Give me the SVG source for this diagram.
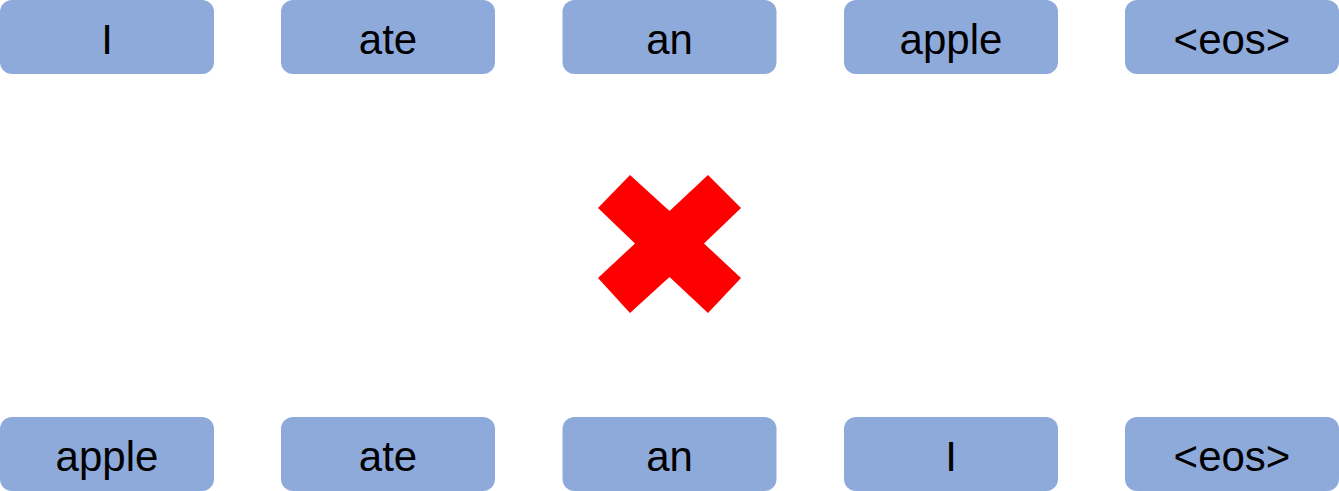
<svg xmlns="http://www.w3.org/2000/svg" width="1339" height="491" viewBox="0 0 1339 491">
<style>
.box{fill:#8EAADB;}
.t{font-family:"Liberation Sans",Arial,sans-serif;font-size:42px;fill:#000;text-anchor:middle;}
</style>
<rect width="1339" height="491" fill="#fff"/>
<g id="top-I"><rect class="box" x="0" y="0" width="214" height="74" rx="12"/><text class="t" x="107" y="54">I</text></g>
<g id="top-ate"><rect class="box" x="281" y="0" width="214" height="74" rx="12"/><text class="t" x="388" y="54">ate</text></g>
<g id="top-an"><rect class="box" x="562.5" y="0" width="214" height="74" rx="12"/><text class="t" x="669.5" y="54">an</text></g>
<g id="top-apple"><rect class="box" x="844" y="0" width="214" height="74" rx="12"/><text class="t" x="951" y="54">apple</text></g>
<g id="top-eos"><rect class="box" x="1125" y="0" width="214" height="74" rx="12"/><text class="t" x="1232" y="54">&lt;eos&gt;</text></g>
<g id="cross"><polygon fill="#FF0000" points="598,208 630,175 669.5,211 708,175 741,208 704,243.5 741,278 708,313 669.5,277 630,313 598,278 635,243.5"/></g>
<g id="bot-apple"><rect class="box" x="0" y="417" width="214" height="74" rx="12"/><text class="t" x="107" y="471">apple</text></g>
<g id="bot-ate"><rect class="box" x="281" y="417" width="214" height="74" rx="12"/><text class="t" x="388" y="471">ate</text></g>
<g id="bot-an"><rect class="box" x="562.5" y="417" width="214" height="74" rx="12"/><text class="t" x="669.5" y="471">an</text></g>
<g id="bot-I"><rect class="box" x="844" y="417" width="214" height="74" rx="12"/><text class="t" x="951" y="471">I</text></g>
<g id="bot-eos"><rect class="box" x="1125" y="417" width="214" height="74" rx="12"/><text class="t" x="1232" y="471">&lt;eos&gt;</text></g>
<g id="connectors"></g>
</svg>
